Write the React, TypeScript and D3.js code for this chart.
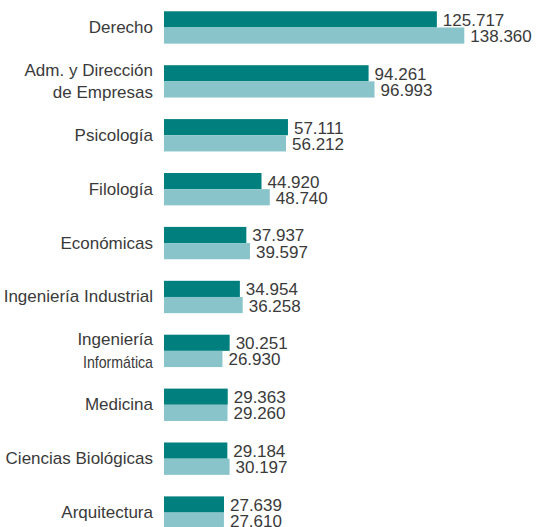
import React from "react";
import * as d3 from "d3";

const categories: string[][] = [
  ["Derecho"],
  ["Adm. y Dirección", "de Empresas"],
  ["Psicología"],
  ["Filología"],
  ["Económicas"],
  ["Ingeniería Industrial"],
  ["Ingeniería", "Informática"],
  ["Medicina"],
  ["Ciencias Biológicas"],
  ["Arquitectura"],
];
const seriesA = [125717, 94261, 57111, 44920, 37937, 34954, 30251, 29363, 29184, 27639];
const seriesB = [138360, 96993, 56212, 48740, 39597, 36258, 26930, 29260, 30197, 27610];
const seriesKeys = ["a", "b"];

const W = 541;
const H = 527;
const colors: Record<string, string> = { a: "#007F7F", b: "#88C4C9" };
const font = "'Liberation Sans', Arial, sans-serif";
const textColor = "#3a3a3a";

const fmt = (v: number) => d3.format(",")(v).replace(/,/g, ".");

export default function App() {
  const keys = categories.map((c) => c.join(" "));
  const x = d3.scaleLinear().domain([0, 138360]).range([164, 464.3]);
  const y = d3
    .scaleBand<string>()
    .domain(keys)
    .range([11.3, 11.3 + 53.9 * (10 - 0.4)])
    .paddingInner(0.4)
    .paddingOuter(0);
  const sub = d3.scaleBand<string>().domain(seriesKeys).range([0, y.bandwidth()]);
  const data = [seriesA, seriesB];

  return (
    <svg
      width={W}
      height={H}
      style={{ position: "absolute", left: 0, top: 0, background: "#fff" }}
      fontFamily={font}
    >
      {keys.map((k, i) => {
        const y0 = y(k)!;
        const cy = y0 + y.bandwidth() / 2;
        const lines = categories[i];
        const lh = 22.6;
        return (
          <g key={k}>
            {seriesKeys.map((s, j) => {
              const v = data[j][i];
              const by = y0 + sub(s)!;
              return (
                <g key={s}>
                  <rect
                    x={x(0)}
                    y={by}
                    width={x(v) - x(0)}
                    height={sub.bandwidth()}
                    fill={colors[s]}
                  />
                  <text
                    x={x(v) + 6}
                    y={by + sub.bandwidth() / 2 + 1}
                    dominantBaseline="central"
                    fontSize={17}
                    fill={textColor}
                  >
                    {fmt(v)}
                  </text>
                </g>
              );
            })}
            {lines.map((ln, li) => {
              const ty = cy + (li - (lines.length - 1) / 2) * lh;
              const extra =
                ln === "Informática"
                  ? { textLength: 70, lengthAdjust: "spacingAndGlyphs" as const }
                  : {};
              return (
                <text
                  key={li}
                  x={153}
                  y={ty}
                  textAnchor="end"
                  dominantBaseline="central"
                  fontSize={17}
                  fill={textColor}
                  {...extra}
                >
                  {ln}
                </text>
              );
            })}
          </g>
        );
      })}
    </svg>
  );
}
